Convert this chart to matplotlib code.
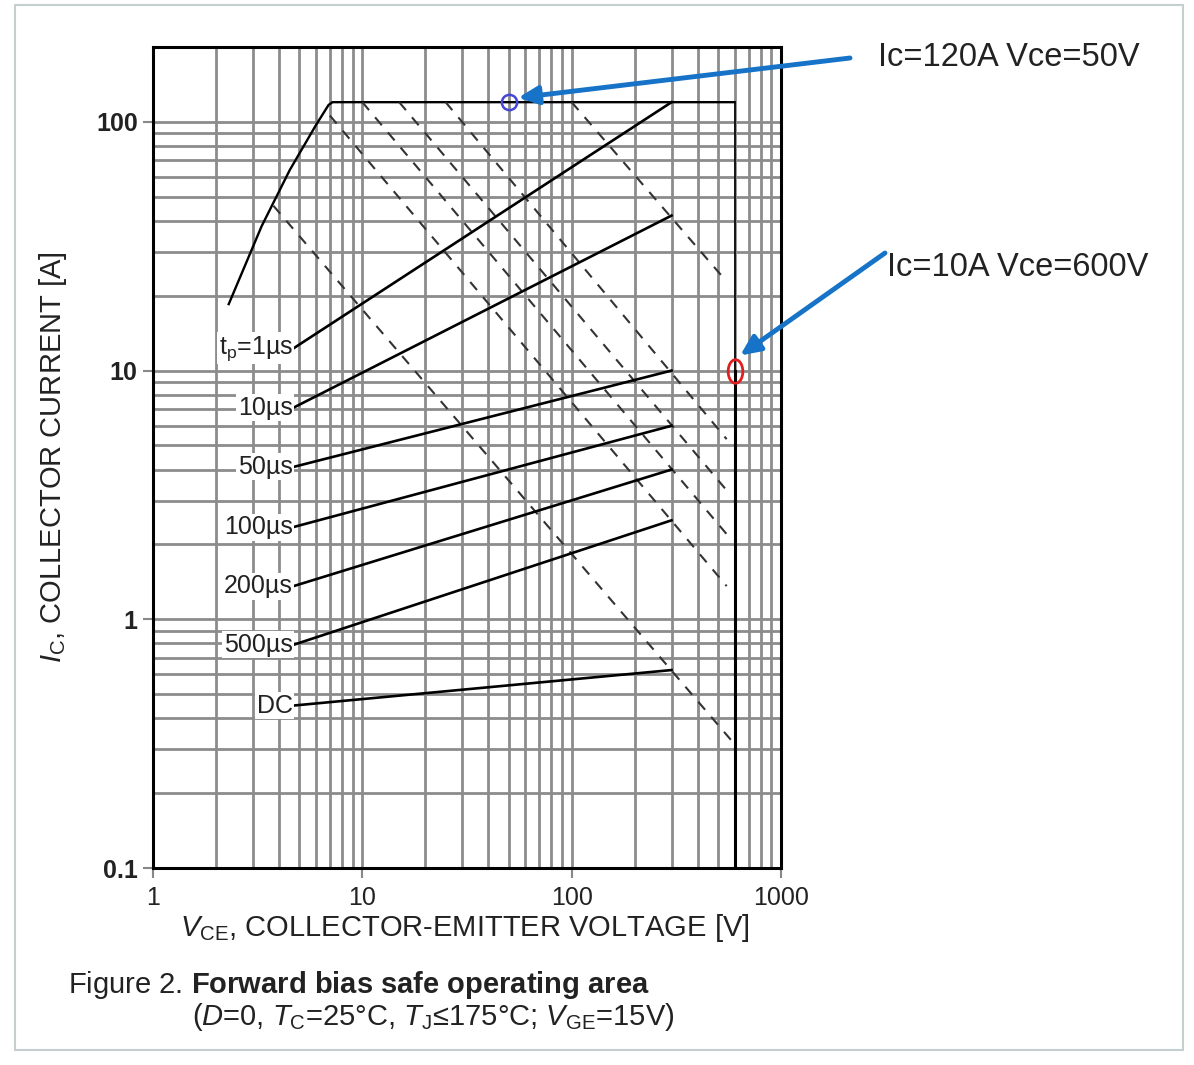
import matplotlib
matplotlib.use('Agg')
import numpy as np
import matplotlib.pyplot as plt
from matplotlib.path import Path
from matplotlib.patches import Rectangle
from matplotlib.ticker import NullFormatter

plt.rcParams['font.family'] = ['Liberation Sans', 'DejaVu Sans']
plt.rcParams['mathtext.fontset'] = 'custom'
plt.rcParams['mathtext.rm'] = 'Liberation Sans'
plt.rcParams['mathtext.it'] = 'Liberation Sans:italic'
plt.rcParams['mathtext.bf'] = 'Liberation Sans:bold'

# outer SOA boundary: left ramp, 120 A current limit, 600 V voltage limit
ramp_v = [2.3, 3.3, 4.5, 6.0, 6.9, 7.2]
ramp_i = [18.5, 38, 64, 97, 117, 120]
limit_v = 600
limit_i = 120
split_i = 10   # vertical limit gets heavier below this current

# pulse width lines (label end -> 300 V)
pulse_labels = [r'$\mathrm{t}_{\mathrm{p}}$=1µs', '10µs', '50µs', '100µs', '200µs', '500µs', 'DC']
pulse_v0 = 4.7
pulse_v1 = 300
pulse_i0 = [12.3, 7.1, 4.1, 2.35, 1.36, 0.79, 0.45]
pulse_i1 = [120, 42, 10, 6, 4, 2.5, 0.625]

# dashed power limit lines
power_v0 = [100, 25, 15, 10, 7.0, 3.76]
power_i0 = [120, 120, 120, 120, 106, 46]
power_v1 = [550, 550, 550, 550, 550, 590]
power_i1 = [22.8, 5.3, 3.3, 2.2, 1.36, 0.32]

# marked operating points
mark1 = (50, 120)
mark2 = (600, 10)

x_ticks = [1, 10, 100, 1000]
x_ticklabels = ['1', '10', '100', '1000']
y_ticks = [0.1, 1, 10, 100]
y_ticklabels = ['0.1', '1', '10', '100']

W, H = 1194, 1065
fig = plt.figure(figsize=(W / 100, H / 100), dpi=100)
ax = fig.add_axes([153 / W, 1 - 868 / H, (781 - 153) / W, (868 - 47) / H])
ax.set_xscale('log')
ax.set_yscale('log')
ax.set_xlim(1, 1000)
ax.set_ylim(0.1, 200)

ax.grid(which='both', color='#8c8c8c', lw=2.0)
ax.set_axisbelow(True)
ax.set_xticks(x_ticks)
ax.set_xticklabels(x_ticklabels, fontsize=18, color='#222')
ax.set_yticks(y_ticks)
ax.set_yticklabels(y_ticklabels, fontsize=18, color='#222', fontweight='bold')
ax.xaxis.set_minor_formatter(NullFormatter())
ax.yaxis.set_minor_formatter(NullFormatter())
ax.tick_params(which='minor', length=0)
ax.tick_params(which='major', length=7, width=1.5, color='#888', direction='out')
ax.tick_params(axis='x', pad=6)
ax.tick_params(axis='y', pad=4)
for s in ax.spines.values():
    s.set_linewidth(2.2)
    s.set_color('black')

# boundary
ax.plot(ramp_v + [limit_v], ramp_i + [limit_i], color='black', lw=1.7, zorder=3)
ax.plot([limit_v, limit_v], [limit_i, split_i], color='black', lw=1.2, zorder=3)
ax.plot([limit_v, limit_v], [split_i, 0.1], color='black', lw=2.2, zorder=3)

# dashed power lines
for v0, i0, v1, i1 in zip(power_v0, power_i0, power_v1, power_i1):
    ax.plot([v0, v1], [i0, i1], color='#333', lw=1.5, dashes=(5, 4.5), zorder=3)

# pulse lines + labels
for lab, i0, i1 in zip(pulse_labels, pulse_i0, pulse_i1):
    ax.plot([pulse_v0, pulse_v1], [i0, i1], color='black', lw=1.9, zorder=4)
    ax.text(pulse_v0 / 1.01, i0, lab, ha='right', va='center', fontsize=18, color='#222',
            zorder=5, bbox=dict(fc='white', ec='none', pad=1))

# markers
ax.plot(*mark1, 'o', ms=11, mfc='none', mec='#4646d8', mew=1.8, zorder=6)
t = np.linspace(0, 2 * np.pi, 60)
ell = Path(np.column_stack([0.62 * np.cos(t), np.sin(t)]))
ax.plot(*mark2, marker=ell, ms=17, mfc='none', mec='#e02020', mew=2, zorder=6)

blue = '#1673c8'
ax.annotate('', xy=(55.5, 125), xycoords='data', xytext=(850 / W, 1 - 58 / H),
            textcoords='figure fraction',
            arrowprops=dict(arrowstyle='-|>,head_length=1.2,head_width=0.55', color=blue,
                            lw=3.5, shrinkA=0, shrinkB=0), zorder=7, annotation_clip=False)
ax.annotate('', xy=(638, 11.5), xycoords='data', xytext=(885 / W, 1 - 253 / H),
            textcoords='figure fraction',
            arrowprops=dict(arrowstyle='-|>,head_length=1.2,head_width=0.55', color=blue,
                            lw=3.5, shrinkA=0, shrinkB=0), zorder=7, annotation_clip=False)
fig.text(878 / W, 1 - 58 / H, 'Ic=120A Vce=50V', fontsize=23.5, va='center', color='#222')
fig.text(887 / W, 1 - 268 / H, 'Ic=10A Vce=600V', fontsize=23.5, va='center', color='#222')

ax.set_xlabel(r'$\mathit{V}_{\mathrm{CE}}$, COLLECTOR-EMITTER VOLTAGE [V]', fontsize=21,
              color='#222', va='center')
ax.xaxis.set_label_coords(0.497, -0.0735)
ax.set_ylabel(r'$\mathit{I}_{\mathrm{C}}$, COLLECTOR CURRENT [A]', fontsize=21,
              color='#222', va='center')
ax.yaxis.set_label_coords(-0.159, 0.50)

fig.text(68 / W, 1 - 985 / H, r'Figure 2. $\mathbf{Forward\ bias\ safe\ operating\ area}$',
         fontsize=21, va='center', color='#222')
fig.text(192 / W, 1 - 1017 / H,
         r'($\mathit{D}$=0, $\mathit{T}_{\mathrm{C}}$=25°C, $\mathit{T}_{\mathrm{J}}$≤175°C; '
         r'$\mathit{V}_{\mathrm{GE}}$=15V)', fontsize=21, va='center', color='#222')

fig.patches.append(Rectangle((15 / W, 1 - 1050 / H), (1183 - 15) / W, (1050 - 5) / H,
                             transform=fig.transFigure, fill=False, ec='#c5cfcf', lw=1.5))

fig.savefig('out.png', dpi=100)
